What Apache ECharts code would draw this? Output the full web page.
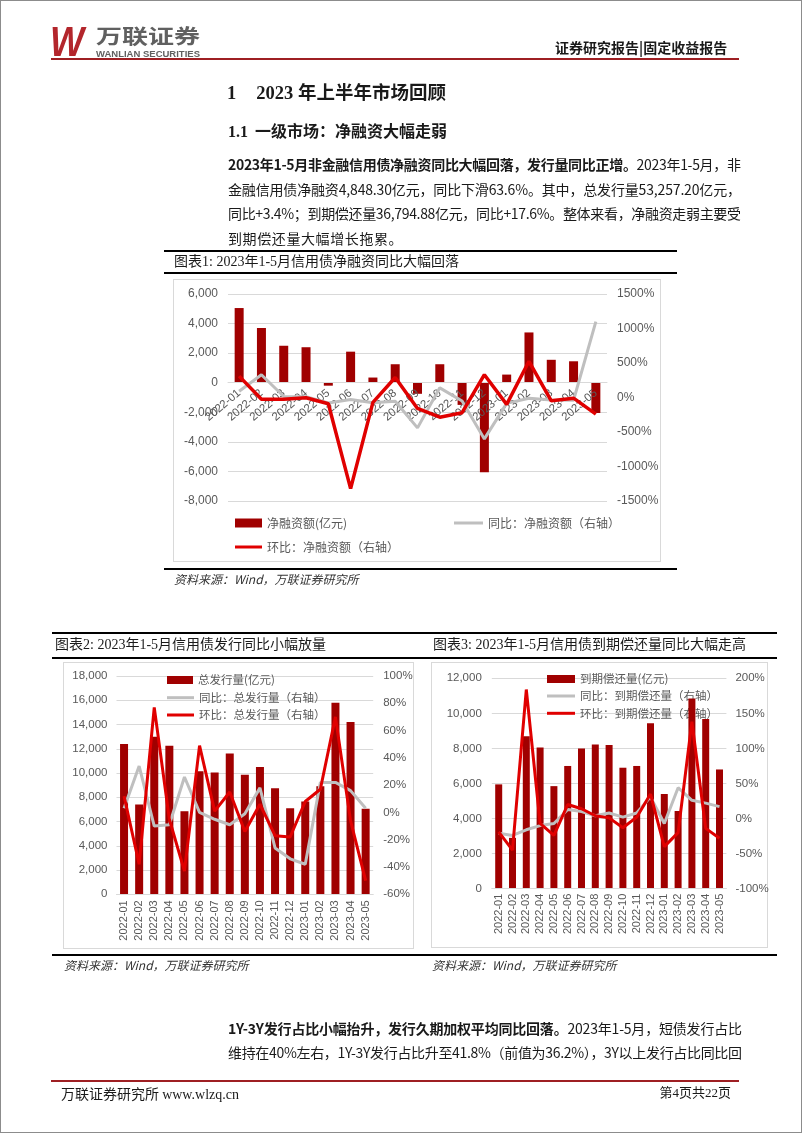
<!DOCTYPE html>
<html><head><meta charset="utf-8">
<script src="https://cdn.jsdelivr.net/npm/echarts@6/dist/echarts.min.js"></script>
<style>
html,body{margin:0;padding:0;background:#fff;}
#page{position:relative;width:802px;height:1133px;overflow:hidden;background:#fff;font-family:"Noto Sans CJK SC",sans-serif;color:#1a1a1a;}
.t{position:absolute;white-space:nowrap;line-height:20px;z-index:3;}
.hl{position:absolute;background:#000;z-index:1;}
.box{position:absolute;border:1px solid #d9d9d9;box-sizing:border-box;z-index:0;}
#chart{position:absolute;left:0;top:0;width:802px;height:1133px;z-index:2;}
.pl{position:absolute;white-space:nowrap;line-height:20px;font-size:14px;z-index:3;color:#1a1a1a;}
.pl b{font-weight:700;}
.cap{font-family:"Liberation Serif","Noto Sans CJK SC",serif;font-size:14px;color:#1a1a1a;}
.src{font-size:12px;font-style:italic;color:#333;}
#frame{position:absolute;left:0;top:0;width:802px;height:1133px;border:1px solid #8c8c8c;box-sizing:border-box;z-index:5;pointer-events:none;}
</style></head><body>
<div id="page">
  <svg style="position:absolute;left:0;top:0;z-index:3" width="802" height="70">
    <text x="50" y="56" font-family="Liberation Sans" font-weight="bold" font-style="italic" font-size="42" fill="#B3262C" textLength="34" lengthAdjust="spacingAndGlyphs">W</text>
    <text x="96" y="43.5" font-family="Noto Sans CJK SC" font-weight="bold" font-size="20" fill="#606060" textLength="104" lengthAdjust="spacingAndGlyphs">万联证券</text>
    <text x="96" y="56.5" font-family="Liberation Sans" font-weight="bold" font-size="9.5" fill="#606060" textLength="104" lengthAdjust="spacingAndGlyphs">WANLIAN SECURITIES</text>
  </svg>
  <div class="t" style="left:555px;top:37px;font-size:14px;font-weight:700;">证券研究报告|固定收益报告</div>
  <div class="hl" style="left:51px;top:57.5px;width:688px;height:2px;background:#9E1F23;"></div>

  <div class="t" style="left:227px;top:83px;font-size:18.5px;font-weight:700;font-family:'Liberation Serif','Noto Sans CJK SC',serif;">1<span style="margin-left:20px;">2023 年上半年市场回顾</span></div>
  <div class="t" style="left:228px;top:122px;font-size:16px;font-weight:700;font-family:'Liberation Serif','Noto Sans CJK SC',serif;">1.1<span style="margin-left:7px;">一级市场：净融资大幅走弱</span></div>

  <div class="pl" data-w="513" style="left:228px;top:154px;"><span><b>2023年1-5月非金融信用债净融资同比大幅回落，发行量同比正增。</b>2023年1-5月，非</span></div>
  <div class="pl" data-w="513" style="left:228px;top:178.5px;"><span>金融信用债净融资4,848.30亿元，同比下滑63.6%。其中，总发行量53,257.20亿元，</span></div>
  <div class="pl" data-w="513" style="left:228px;top:203px;"><span>同比+3.4%；到期偿还量36,794.88亿元，同比+17.6%。整体来看，净融资走弱主要受</span></div>
  <div class="pl" style="left:228px;top:227.5px;"><span style="letter-spacing:0.6px">到期偿还量大幅增长拖累。</span></div>

  <div class="hl" style="left:164px;top:249.5px;width:513px;height:2px;"></div>
  <div class="t cap" style="left:174px;top:251.5px;">图表1: 2023年1-5月信用债净融资同比大幅回落</div>
  <div class="hl" style="left:164px;top:271.5px;width:513px;height:2px;"></div>
  <div class="box" style="left:173px;top:279px;width:488px;height:283px;"></div>
  <div class="hl" style="left:164px;top:567.5px;width:513px;height:2px;"></div>
  <div class="t src" style="left:174px;top:569px;">资料来源：Wind，万联证券研究所</div>

  <div class="hl" style="left:52px;top:632px;width:725px;height:2px;"></div>
  <div class="t cap" style="left:55px;top:635px;">图表2: 2023年1-5月信用债发行同比小幅放量</div>
  <div class="t cap" style="left:433px;top:635px;">图表3: 2023年1-5月信用债到期偿还量同比大幅走高</div>
  <div class="hl" style="left:52px;top:657px;width:725px;height:2px;"></div>
  <div class="box" style="left:63px;top:662px;width:351px;height:287px;"></div>
  <div class="box" style="left:431px;top:662px;width:337px;height:286px;"></div>
  <div class="hl" style="left:52px;top:953.5px;width:725px;height:2.5px;"></div>
  <div class="t src" style="left:64px;top:955px;">资料来源：Wind，万联证券研究所</div>
  <div class="t src" style="left:432px;top:955px;">资料来源：Wind，万联证券研究所</div>

  <div class="pl" data-w="514" style="left:228px;top:1018px;"><span><b>1Y-3Y发行占比小幅抬升，发行久期加权平均同比回落。</b>2023年1-5月，短债发行占比</span></div>
  <div class="pl" data-w="514" style="left:228px;top:1041.5px;"><span>维持在40%左右，1Y-3Y发行占比升至41.8%（前值为36.2%），3Y以上发行占比同比回</span></div>

  <div class="hl" style="left:51px;top:1079.5px;width:688px;height:2px;background:#9E1F23;"></div>
  <div class="t" style="left:61px;top:1083px;font-size:14px;">万联证券研究所 <span style="font-family:'Liberation Serif',serif;">www.wlzq.cn</span></div>
  <div class="t" style="right:71px;top:1083px;font-size:13px;font-family:'Liberation Serif','Noto Sans CJK SC',serif;">第4页共22页</div>

  <div id="chart"></div>
  <div id="frame"></div>
</div>
<script>
// ---------- data ----------
const months = ['2022-01','2022-02','2022-03','2022-04','2022-05','2022-06','2022-07','2022-08','2022-09','2022-10','2022-11','2022-12','2023-01','2023-02','2023-03','2023-04','2023-05'];

const netNames = ['净融资额(亿元)', '同比：净融资额（右轴）', '环比：净融资额（右轴）'];
const netFinancing = [5050, 3700, 2500, 2400, -200, 2100, 350, 1250, -750, 1250, -1500, -6050, 550, 3400, 1550, 1450, -2050];
const netYoY = [90, 330, 15, 10, -80, -30, -75, -55, -440, 140, -50, -600, -85, -10, -36, -40, 1100];
const netMoM = [310, -25, -25, -3, -90, -1320, -70, 290, -158, -285, -220, 330, -100, 525, -48, -10, -242];

const issNames = ['总发行量(亿元)', '同比：总发行量（右轴）', '环比：总发行量（右轴）'];
const issuance = [12400, 7400, 13000, 12250, 6850, 10150, 10050, 11600, 9850, 10500, 8750, 7100, 7650, 8900, 15800, 14200, 7050];
const issYoY = [3, 34, -10, -9, 26, 0, -5, -9, -1, 18, -26, -34, -38, 22, 22, 16, 3];
const issMoM = [12, -38, 77, -5, -43, 49, 1, 15, -14, 6, -17, -18, 8, 17, 70, -6, -50];

const matNames = ['到期偿还量(亿元)', '同比：到期偿还量（右轴）', '环比：到期偿还量（右轴）'];
const maturity = [5950, 2900, 8700, 8050, 5850, 7000, 8000, 8230, 8200, 6900, 7000, 9430, 5400, 4430, 10850, 9680, 6800];
const matYoY = [-21, -24, -16, -10, -7, 13, 10, 4, 8, 2, 8, 31, -7, 44, 26, 22, 17];
const matMoM = [-19, -45, 184, -7, -24, 20, 14, 4, 1, -13, 2, 35, -40, -20, 138, -14, -28];

// axis ranges
const netRange = [-8000, 6000], netRateRange = [-1500, 1500];
const issRange = [0, 18000], issRateRange = [-60, 100];
const matRange = [0, 12000], matRateRange = [-100, 200];

// ---------- paragraph justification ----------
document.querySelectorAll('.pl[data-w]').forEach(function (el) {
  const span = el.querySelector('span');
  const W = parseFloat(el.getAttribute('data-w'));
  const w = span.getBoundingClientRect().width;
  const n = span.textContent.length;
  span.style.letterSpacing = ((W - w) / (n - 1)) + 'px';
});

// ---------- chart ----------
const C_BAR = '#A00000', C_RED = '#E00000', C_GRAY = '#BFBFBF', C_TXT = '#595959', C_GRID = '#D9D9D9';
const AXF = 'Liberation Sans';
const thousands = v => Number(v).toLocaleString('en-US');
const pct = v => v + '%';

const G1 = { left: 228, top: 294, width: 379, height: 207 };
const G2 = { left: 116.5, top: 676, width: 256.7, height: 218.3 };
const G3 = { left: 491.8, top: 678.3, width: 234.6, height: 210.4 };

function catAxis(grid, rotate, fs, margin, offset) {
  return {
    type: 'category', gridIndex: grid, data: months, z: 3, offset: offset,
    axisLine: { show: true, onZero: false, lineStyle: { color: C_GRID, width: 1 } },
    axisTick: { show: false },
    axisLabel: { interval: 0, rotate: rotate, fontSize: fs, color: C_TXT, fontFamily: AXF, margin: margin },
    splitLine: { show: false }
  };
}
function valAxis(grid, pos, range, interval, fmt, split, fs, margin) {
  return {
    type: 'value', gridIndex: grid, position: pos, min: range[0], max: range[1], interval: interval,
    axisLine: { show: false }, axisTick: { show: false },
    axisLabel: { formatter: fmt, fontSize: fs, color: C_TXT, fontFamily: AXF, margin: margin },
    splitLine: { show: split, lineStyle: { color: C_GRID, width: 1 } }
  };
}
function leg(name, left, cy, w, h, fs) {
  return {
    data: [name], left: left, top: cy - Math.max(h, fs) / 2, padding: 0, itemGap: 0,
    itemWidth: w, itemHeight: h, icon: 'rect', selectedMode: false, z: 1,
    textStyle: { fontSize: fs, color: C_TXT, fontFamily: 'Noto Sans CJK SC' }
  };
}
function barS(name, xi, yi, data, bw) {
  return { type: 'bar', name: name, xAxisIndex: xi, yAxisIndex: yi, data: data, barWidth: bw,
    itemStyle: { color: C_BAR }, color: C_BAR, z: 2 };
}
function lineS(name, xi, yi, data, color, width, z) {
  return { type: 'line', name: name, xAxisIndex: xi, yAxisIndex: yi, data: data, symbol: 'none',
    showSymbol: false, color: color, itemStyle: { color: color },
    lineStyle: { color: color, width: width }, z: z };
}

// chart 1 category axis sits on the zero line of the left axis
const zeroOffset1 = -(0 - netRange[0]) / (netRange[1] - netRange[0]) * G1.height;

const option = {
  animation: false,
  textStyle: { fontFamily: AXF },
  grid: [G1, G2, G3],
  xAxis: [
    catAxis(0, 40, 11.5, 9, zeroOffset1),
    catAxis(1, 90, 11, 6, 0),
    catAxis(2, 90, 11, 5, 0)
  ],
  yAxis: [
    valAxis(0, 'left', netRange, 2000, thousands, true, 12, 10),
    valAxis(0, 'right', netRateRange, 500, pct, false, 12, 10),
    valAxis(1, 'left', issRange, 2000, thousands, true, 11.5, 9),
    valAxis(1, 'right', issRateRange, 20, pct, false, 11.5, 10),
    valAxis(2, 'left', matRange, 2000, thousands, true, 11.5, 10),
    valAxis(2, 'right', matRateRange, 50, pct, false, 11.5, 9)
  ],
  legend: [
    leg(netNames[0], 235, 523, 27, 9, 12),
    leg(netNames[1], 454, 523, 29, 3, 12),
    leg(netNames[2], 235, 547, 27, 3, 12),
    leg(issNames[0], 167, 680, 26, 8, 11.5),
    leg(issNames[1], 167, 697.7, 27, 3, 11.5),
    leg(issNames[2], 167, 715, 27, 3, 11.5),
    leg(matNames[0], 547, 679, 28, 8, 11.5),
    leg(matNames[1], 547, 696, 28, 3, 11.5),
    leg(matNames[2], 547, 713.3, 28, 3, 11.5)
  ],
  series: [
    barS(netNames[0], 0, 0, netFinancing, 9),
    lineS(netNames[1], 0, 1, netYoY, C_GRAY, 3, 4),
    lineS(netNames[2], 0, 1, netMoM, C_RED, 3.5, 5),
    barS(issNames[0], 1, 2, issuance, 8),
    lineS(issNames[1], 1, 3, issYoY, C_GRAY, 3, 4),
    lineS(issNames[2], 1, 3, issMoM, C_RED, 3, 5),
    barS(matNames[0], 2, 4, maturity, 7),
    lineS(matNames[1], 2, 5, matYoY, C_GRAY, 3, 4),
    lineS(matNames[2], 2, 5, matMoM, C_RED, 3, 5)
  ]
};

const chart = echarts.init(document.getElementById('chart'), null, { renderer: 'canvas', width: 802, height: 1133 });
chart.setOption(option);
</script>
</body></html>
